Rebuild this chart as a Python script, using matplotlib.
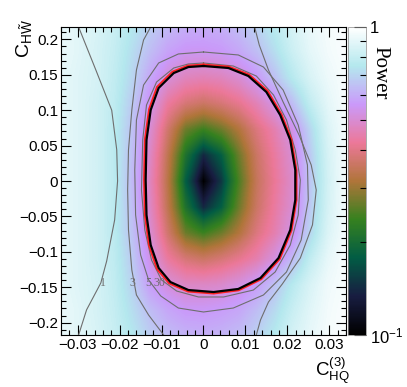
import numpy as np
import matplotlib
matplotlib.use("Agg")
import matplotlib.pyplot as plt
from matplotlib.colors import LinearSegmentedColormap, LogNorm
from matplotlib.ticker import MultipleLocator, FixedLocator, NullFormatter

plt.rcParams['font.family'] = ['Liberation Sans', 'DejaVu Sans']
plt.rcParams['mathtext.fontset'] = 'custom'
plt.rcParams['mathtext.rm'] = 'Liberation Sans'
plt.rcParams['mathtext.it'] = 'Liberation Sans'

# grid of bin centres (C_HQ^(3) along x, C_HW~ along y)
x_nodes = [-0.034, -0.02975, -0.0255, -0.02125, -0.017, -0.01275, -0.0085, -0.00425, 0.0,
           0.00425, 0.0085, 0.01275, 0.017, 0.02125, 0.0255, 0.02975, 0.034]
y_nodes = [-0.22, -0.1833, -0.1467, -0.11, -0.0733, -0.0367, 0.0, 0.0367, 0.0733, 0.11,
           0.1467, 0.1833, 0.22]

# power, one row per y node (bottom to top)
power = [
    [0.92, 0.89, 0.86, 0.81, 0.75, 0.68, 0.64, 0.62, 0.61, 0.62, 0.64, 0.69, 0.76, 0.85, 0.91, 0.96, 0.98],
    [0.92, 0.89, 0.85, 0.80, 0.72, 0.64, 0.59, 0.56, 0.56, 0.57, 0.59, 0.64, 0.71, 0.81, 0.89, 0.95, 0.98],
    [0.91, 0.88, 0.85, 0.79, 0.69, 0.57, 0.51, 0.48, 0.48, 0.49, 0.52, 0.57, 0.65, 0.76, 0.86, 0.94, 0.97],
    [0.91, 0.88, 0.84, 0.78, 0.67, 0.53, 0.43, 0.38, 0.36, 0.38, 0.41, 0.45, 0.52, 0.63, 0.79, 0.91, 0.97],
    [0.91, 0.88, 0.84, 0.77, 0.65, 0.50, 0.37, 0.27, 0.24, 0.27, 0.32, 0.39, 0.45, 0.53, 0.70, 0.87, 0.96],
    [0.91, 0.88, 0.84, 0.77, 0.64, 0.48, 0.34, 0.21, 0.14, 0.18, 0.27, 0.36, 0.43, 0.50, 0.67, 0.85, 0.96],
    [0.91, 0.88, 0.84, 0.77, 0.63, 0.47, 0.33, 0.18, 0.10, 0.15, 0.25, 0.35, 0.42, 0.49, 0.66, 0.84, 0.96],
    [0.91, 0.88, 0.84, 0.77, 0.64, 0.48, 0.34, 0.21, 0.14, 0.18, 0.27, 0.36, 0.43, 0.50, 0.67, 0.85, 0.96],
    [0.91, 0.88, 0.84, 0.77, 0.65, 0.50, 0.37, 0.27, 0.24, 0.27, 0.32, 0.39, 0.45, 0.53, 0.70, 0.87, 0.96],
    [0.91, 0.88, 0.84, 0.78, 0.67, 0.54, 0.43, 0.38, 0.36, 0.38, 0.41, 0.46, 0.53, 0.64, 0.79, 0.90, 0.97],
    [0.91, 0.88, 0.85, 0.79, 0.70, 0.59, 0.51, 0.47, 0.46, 0.47, 0.50, 0.56, 0.65, 0.76, 0.86, 0.93, 0.97],
    [0.92, 0.89, 0.85, 0.80, 0.72, 0.64, 0.58, 0.55, 0.55, 0.56, 0.59, 0.64, 0.72, 0.82, 0.90, 0.95, 0.98],
    [0.92, 0.89, 0.86, 0.81, 0.75, 0.68, 0.63, 0.61, 0.60, 0.61, 0.64, 0.69, 0.77, 0.85, 0.92, 0.96, 0.98],
]

# contour lines (luminosity levels), data coordinates
c1_x = [-0.0298, -0.0257, -0.0219, -0.0207, -0.0205, -0.0212, -0.0231, -0.0245, -0.0279, -0.0298]
c1_y = [0.2175, 0.157, 0.100, 0.044, 0.0, -0.055, -0.113, -0.144, -0.182, -0.2175]

c3a_x = [-0.0126, -0.0143, -0.0160, -0.0171, -0.0179, -0.0181, -0.0179, -0.0171, -0.0160, -0.0131, -0.0095]
c3a_y = [0.2175, 0.1992, 0.1568, 0.1003, 0.0438, -0.0127, -0.0692, -0.1257, -0.1610, -0.1893, -0.2175]
c3b_x = [0.0122, 0.0133, 0.0155, 0.0190, 0.0228, 0.0257, 0.0269, 0.0260, 0.0231, 0.0188, 0.0155, 0.0136, 0.0126]
c3b_y = [0.2175, 0.1921, 0.1568, 0.1115, 0.0650, 0.0226, -0.0127, -0.0620, -0.1088, -0.1455, -0.1709, -0.1963, -0.2175]

c5_x = [0.0, 0.0083, 0.0143, 0.0190, 0.0226, 0.0248, 0.0250, 0.0233, 0.0198, 0.0143, 0.0071, 0.0,
        -0.0060, -0.0102, -0.0131, -0.0150, -0.0162, -0.0164, -0.0160, -0.0143, -0.0107, -0.0060, 0.0]
c5_y = [0.1822, 0.1780, 0.1610, 0.1285, 0.0791, 0.0226, -0.0268, -0.0833, -0.1285, -0.1610, -0.1794, -0.1850,
        -0.1794, -0.1624, -0.1398, -0.1045, -0.0480, 0.0155, 0.0862, 0.1356, 0.1667, 0.1794, 0.1822]

c30_x = [0.0, 0.0071, 0.0126, 0.0167, 0.0198, 0.0219, 0.0231, 0.0226, 0.0207, 0.0171, 0.0119, 0.0048,
         -0.0012, -0.0064, -0.0100, -0.0124, -0.0140, -0.0148, -0.0145, -0.0136, -0.0112, -0.0071, -0.0036, 0.0]
c30_y = [0.1667, 0.1624, 0.1483, 0.1215, 0.0862, 0.0438, 0.0014, -0.0480, -0.0904, -0.1285, -0.1540, -0.1638,
         -0.1638, -0.1554, -0.1398, -0.1116, -0.0692, -0.0127, 0.0579, 0.1073, 0.1398, 0.1596, 0.1653, 0.1667]

black_x = [0.0, 0.00595, 0.0107, 0.0150, 0.0183, 0.0207, 0.0219, 0.0219, 0.0207, 0.0179, 0.0136, 0.0083,
           0.0024, -0.0036, -0.0079, -0.0107, -0.0126, -0.0136, -0.0138, -0.0136, -0.0126, -0.0107, -0.0071,
           -0.0036, 0.0]
black_y = [0.1624, 0.1596, 0.1483, 0.1257, 0.0932, 0.0579, 0.0155, -0.0268, -0.0692, -0.1088, -0.1370, -0.1525,
           -0.1568, -0.1540, -0.1427, -0.1229, -0.0904, -0.0480, 0.0014, 0.0579, 0.1003, 0.1314, 0.1525,
           0.1610, 0.1624]
red_x = [0.0, 0.0060, 0.0109, 0.0153, 0.0186, 0.0210, 0.0222, 0.0222, 0.0210, 0.0182, 0.0138, 0.0084,
         0.0024, -0.0037, -0.0082, -0.0111, -0.0130, -0.0140, -0.0142, -0.0140, -0.0130, -0.0111, -0.0074,
         -0.0037, 0.0]
red_y = [0.1645, 0.1617, 0.1503, 0.1275, 0.0945, 0.0585, 0.0155, -0.0270, -0.0700, -0.1102, -0.1388, -0.1545,
         -0.1590, -0.1562, -0.1447, -0.1245, -0.0912, -0.0482, 0.0014, 0.0585, 0.1015, 0.1330, 0.1545,
         0.1631, 0.1645]

label_text = ["1", "3", "5", "30"]
label_x = [-0.0240, -0.0169, -0.0133, -0.0105]
label_y = [-0.144, -0.144, -0.144, -0.144]

# cubehelix-like palette
helix = [(0, 0, 0), (24, 29, 65), (2, 92, 68), (54, 129, 31), (176, 117, 58),
         (236, 120, 153), (202, 154, 250), (180, 232, 238), (255, 255, 255)]
cmap = LinearSegmentedColormap.from_list("helix", [(r / 255, g / 255, b / 255) for r, g, b in helix], N=255)

fig = plt.figure(figsize=(4.07, 3.87), dpi=100)
ax = fig.add_axes([61 / 407, 52 / 387, 285 / 407, 308 / 387])
cax = fig.add_axes([348 / 407, 52 / 387, 18 / 407, 308 / 387])

hx = (x_nodes[1] - x_nodes[0]) / 2
hy = (y_nodes[1] - y_nodes[0]) / 2
im = ax.imshow(np.array(power), origin="lower", cmap=cmap, norm=LogNorm(0.1, 1.0),
               extent=(x_nodes[0] - hx, x_nodes[-1] + hx, y_nodes[0] - hy, y_nodes[-1] + hy),
               aspect="auto", interpolation="bilinear", interpolation_stage="data")

grey = "#6e6e6e"
for cx, cy in [(c1_x, c1_y), (c3a_x, c3a_y), (c3b_x, c3b_y), (c5_x, c5_y), (c30_x, c30_y)]:
    ax.plot(cx, cy, color=grey, lw=0.8)
ax.plot(red_x, red_y, color="#ff2020", lw=1.3)
ax.plot(black_x, black_y, color="black", lw=1.6)
for t, lx, ly in zip(label_text, label_x, label_y):
    ax.text(lx, ly, t, color=grey, fontsize=8.5, family="Liberation Serif", ha="center", va="center")

ax.set_xlim(-0.034, 0.034)
ax.set_ylim(-0.2175, 0.2175)
ax.xaxis.set_minor_locator(MultipleLocator(0.002))
ax.yaxis.set_minor_locator(MultipleLocator(0.01))
ax.set_xticks([-0.03, -0.02, -0.01, 0, 0.01, 0.02, 0.03])
ax.set_xticklabels(["\u22120.03", "\u22120.02", "\u22120.01", "0", "0.01", "0.02", "0.03"])
ax.set_yticks([-0.2, -0.15, -0.1, -0.05, 0, 0.05, 0.1, 0.15, 0.2])
ax.set_yticklabels(["\u22120.2", "\u22120.15", "\u22120.1", "\u22120.05", "0", "0.05", "0.1", "0.15", "0.2"])
ax.tick_params(which="both", direction="in", top=True, right=True, labelsize=11, pad=2)
ax.tick_params(which="major", length=7, width=0.8)
ax.tick_params(which="minor", length=3.5, width=0.8)
for s in ax.spines.values():
    s.set_linewidth(0.8)

ax.text(1.015, -0.068, r"$\mathrm{C}_{\mathrm{HQ}}^{(3)}$", transform=ax.transAxes,
        ha="right", va="top", fontsize=13.5)
ax.text(-0.13, 1.025, r"$\mathrm{C}_{\mathrm{H}\tilde{\mathrm{W}}}$", transform=ax.transAxes,
        ha="right", va="center", rotation=90, rotation_mode="anchor", fontsize=14)

cb = fig.colorbar(im, cax=cax)
cb.outline.set_linewidth(0.5)
cb.outline.set_edgecolor("#888888")
cax.yaxis.set_major_locator(FixedLocator([0.1, 1.0]))
cax.yaxis.set_minor_locator(FixedLocator([0.2, 0.3, 0.4, 0.5, 0.6, 0.7, 0.8, 0.9]))
cax.yaxis.set_minor_formatter(NullFormatter())
cax.set_yticklabels([r"$10^{-1}$", "1"])
cax.tick_params(which="both", direction="in", right=True, labelsize=12, pad=3, width=0.8)
cax.tick_params(which="major", length=9)
cax.tick_params(which="minor", length=4)
fig.text(380 / 407, 1 - 46 / 387, "Power", rotation=270, ha="center", va="top",
         family="Liberation Serif", fontsize=15)

fig.savefig("out.png", dpi=100)
